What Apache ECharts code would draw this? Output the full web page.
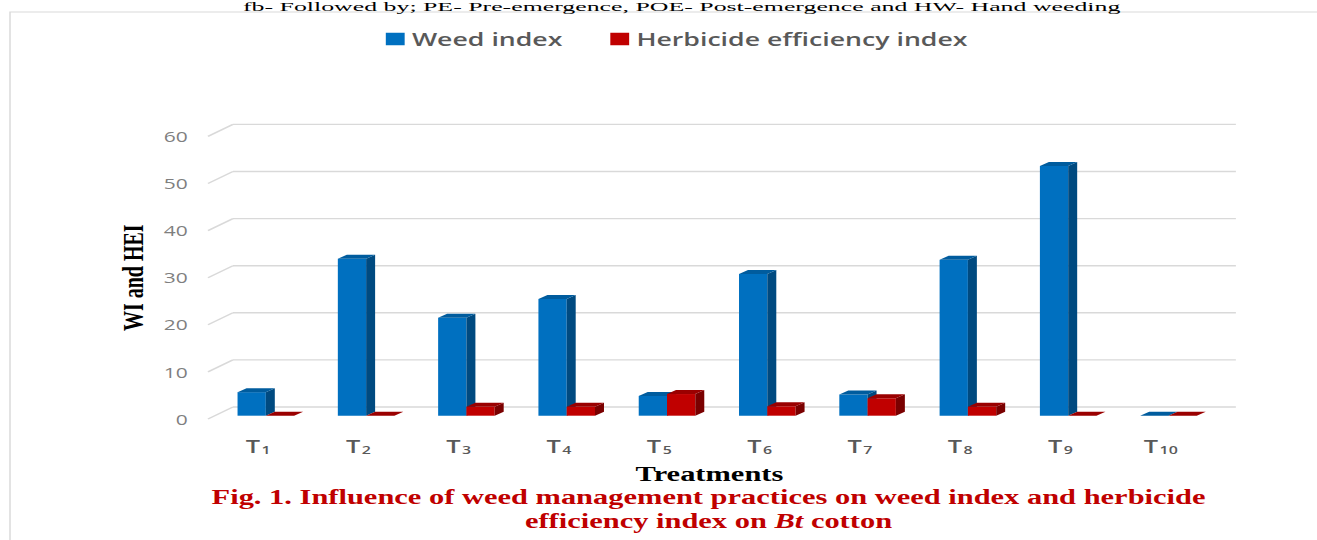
<!DOCTYPE html>
<html><head><meta charset="utf-8">
<script src="https://cdn.jsdelivr.net/npm/echarts@6/dist/echarts.min.js"></script>
<style>
html,body{margin:0;padding:0;background:#fff;overflow:hidden;}
#wrap{width:1317px;height:540px;overflow:hidden;position:relative;}
#chart{width:908px;height:540px;transform:scaleX(1.4504);transform-origin:0 0;}
</style></head><body><div id="wrap"><div id="chart"></div></div>
<script>
// ---- data ----
const categories = ['T1', 'T2', 'T3', 'T4', 'T5', 'T6', 'T7', 'T8', 'T9', 'T10'];
const weedIndex = [5.0, 33.3, 20.8, 24.8, 4.2, 30.1, 4.5, 33.1, 53.0, 0];
const herbicideEfficiencyIndex = [0, 0, 1.9, 1.9, 4.6, 2.0, 3.7, 1.9, 0, 0];
const yTicks = [0, 10, 20, 30, 40, 50, 60];
const seriesNames = ['Weed index', 'Herbicide efficiency index'];
const yAxisTitle = 'WI and HEI';
const xAxisTitle = 'Treatments';
const captionLine1 = 'Fig. 1. Influence of weed management practices on weed index and herbicide';
const captionLine2 = 'efficiency index on {i|Bt} cotton';
const topNote = 'fb- Followed by; PE- Pre-emergence, POE- Post-emergence and HW- Hand weeding';

// ---- styles ----
const GRID_COLOR = '#d9d9d9';
const BACK_DX = 17.2, BACK_DY = 12;     // wall offset (3D)
const FRONT_DX = 4.8, FRONT_DY = 3.3;   // bar front-plane offset
const DEPTH_DX = 6.2, DEPTH_DY = 4;     // bar depth
const BAR_RATIO = 0.282;
const palettes = [
  { front: '#0070c0', side: '#004a80', top: '#005c9e' },
  { front: '#c00000', side: '#7a0000', top: '#9a0000' }
];

function barRenderer(idx) {
  const c = palettes[idx];
  return function (params, api) {
    const ci = api.value(0), v = api.value(1);
    const top = api.coord([ci, v]);
    const base = api.coord([ci, 0]);
    const band = api.size([1, 0])[0];
    const bw = band * BAR_RATIO;
    const cx = top[0] + FRONT_DX + 0.5;
    const x0 = idx === 0 ? cx - bw : cx;
    const x1 = x0 + bw;
    const yb = base[1] - FRONT_DY, yt = top[1] - FRONT_DY;
    const children = [];
    if (yb - yt > 0.5) {
      children.push({ type: 'rect', shape: { x: x0, y: yt, width: bw, height: yb - yt }, style: { fill: c.front } });
      children.push({ type: 'polygon', shape: { points: [[x1, yb], [x1 + DEPTH_DX, yb - DEPTH_DY], [x1 + DEPTH_DX, yt - DEPTH_DY], [x1, yt]] }, style: { fill: c.side } });
    }
    children.push({ type: 'polygon', shape: { points: [[x0, yt], [x0 + DEPTH_DX, yt - DEPTH_DY], [x1 + DEPTH_DX, yt - DEPTH_DY], [x1, yt]] }, style: { fill: c.top } });
    return { type: 'group', children };
  };
}

function gridRenderer(params, api) {
  const cs = params.coordSys;
  const y = api.coord([0, api.value(1)])[1];
  return {
    type: 'group', children: [
      { type: 'line', shape: { x1: cs.x, y1: y, x2: cs.x + BACK_DX, y2: y - BACK_DY }, style: { stroke: GRID_COLOR, lineWidth: 1.4 } },
      { type: 'line', shape: { x1: cs.x + BACK_DX, y1: y - BACK_DY, x2: cs.x + cs.width + BACK_DX, y2: y - BACK_DY }, style: { stroke: GRID_COLOR, lineWidth: 1.4 } }
    ]
  };
}

const chart = echarts.init(document.getElementById('chart'), null, { renderer: 'svg' });
chart.setOption({
  backgroundColor: '#ffffff',
  animation: false,
  grid: { left: 143.4, right: 73.1, top: 136.4, bottom: 121, containLabel: false },
  legend: {
    data: seriesNames, left: 261, top: 25, icon: 'rect', itemWidth: 13, itemHeight: 12.5, itemGap: 33,
    textStyle: { fontFamily: 'Open Sans', fontWeight: 600, fontSize: 18.4, color: '#595959' }
  },
  xAxis: {
    type: 'category', data: categories,
    axisLine: { show: false }, axisTick: { show: false }, splitLine: { show: false },
    axisLabel: {
      margin: 16,
      formatter: v => '{t|T}{s|' + v.slice(1) + '}',
      rich: {
        t: { fontFamily: 'Open Sans', fontWeight: 600, fontSize: 17.5, color: '#595959', lineHeight: 22 },
        s: { fontFamily: 'Open Sans', fontWeight: 600, fontSize: 11, color: '#595959', lineHeight: 22, padding: [7, 0, 0, 1] }
      }
    },
    name: xAxisTitle, nameLocation: 'middle', nameGap: 45,
    nameTextStyle: { fontFamily: 'Liberation Serif', fontWeight: 'bold', fontSize: 21, color: '#000' }
  },
  yAxis: {
    type: 'value', min: 0, max: 60, interval: 10,
    axisLine: { show: false }, axisTick: { show: false }, splitLine: { show: false },
    axisLabel: { margin: 14, fontFamily: 'Open Sans', fontSize: 14.5, color: '#7f7f7f' },
    name: yAxisTitle, nameLocation: 'middle', nameRotate: 90, nameGap: 36,
    nameTextStyle: { fontFamily: 'Liberation Serif', fontWeight: 'bold', fontSize: 20, color: '#000' }
  },
  graphic: [
    { type: 'rect', silent: true, x: 6.9, y: 12, shape: { x: 0, y: 0, width: 1200, height: 700 }, style: { fill: 'none', stroke: '#d9d9d9', lineWidth: 1 } },
    { type: 'text', x: 470, y: 0.5, scaleX: 1.37, silent: true, style: { text: topNote, font: '13px "Liberation Serif"', fill: '#000', align: 'center', verticalAlign: 'top', textAlign: 'center', textVerticalAlign: 'top' } },
    { type: 'text', x: 488.5, y: 497, silent: true, style: { text: captionLine1, font: 'bold 21px "Liberation Serif"', fill: '#c00000', align: 'center', verticalAlign: 'middle', textAlign: 'center', textVerticalAlign: 'middle' } },
    { type: 'text', x: 488.5, y: 521, silent: true, style: { text: captionLine2, font: 'bold 21px "Liberation Serif"', fill: '#c00000', align: 'center', verticalAlign: 'middle', textAlign: 'center', textVerticalAlign: 'middle',
        rich: { i: { font: 'italic bold 21px "Liberation Serif"', fontStyle: 'italic', fontWeight: 'bold', fontSize: 21, fontFamily: 'Liberation Serif', fill: '#c00000', color: '#c00000' } } } }
  ],
  series: [
    { type: 'custom', name: '_grid', silent: true, z: 1, renderItem: gridRenderer, data: yTicks.map(v => [0, v]), encode: { x: 0, y: 1 } },
    { type: 'custom', name: seriesNames[0], z: 2, itemStyle: { color: palettes[0].front }, renderItem: barRenderer(0), data: weedIndex.map((v, i) => [i, v]), encode: { x: 0, y: 1 } },
    { type: 'custom', name: seriesNames[1], z: 3, itemStyle: { color: palettes[1].front }, renderItem: barRenderer(1), data: herbicideEfficiencyIndex.map((v, i) => [i, v]), encode: { x: 0, y: 1 } }
  ]
});
</script></body></html>
